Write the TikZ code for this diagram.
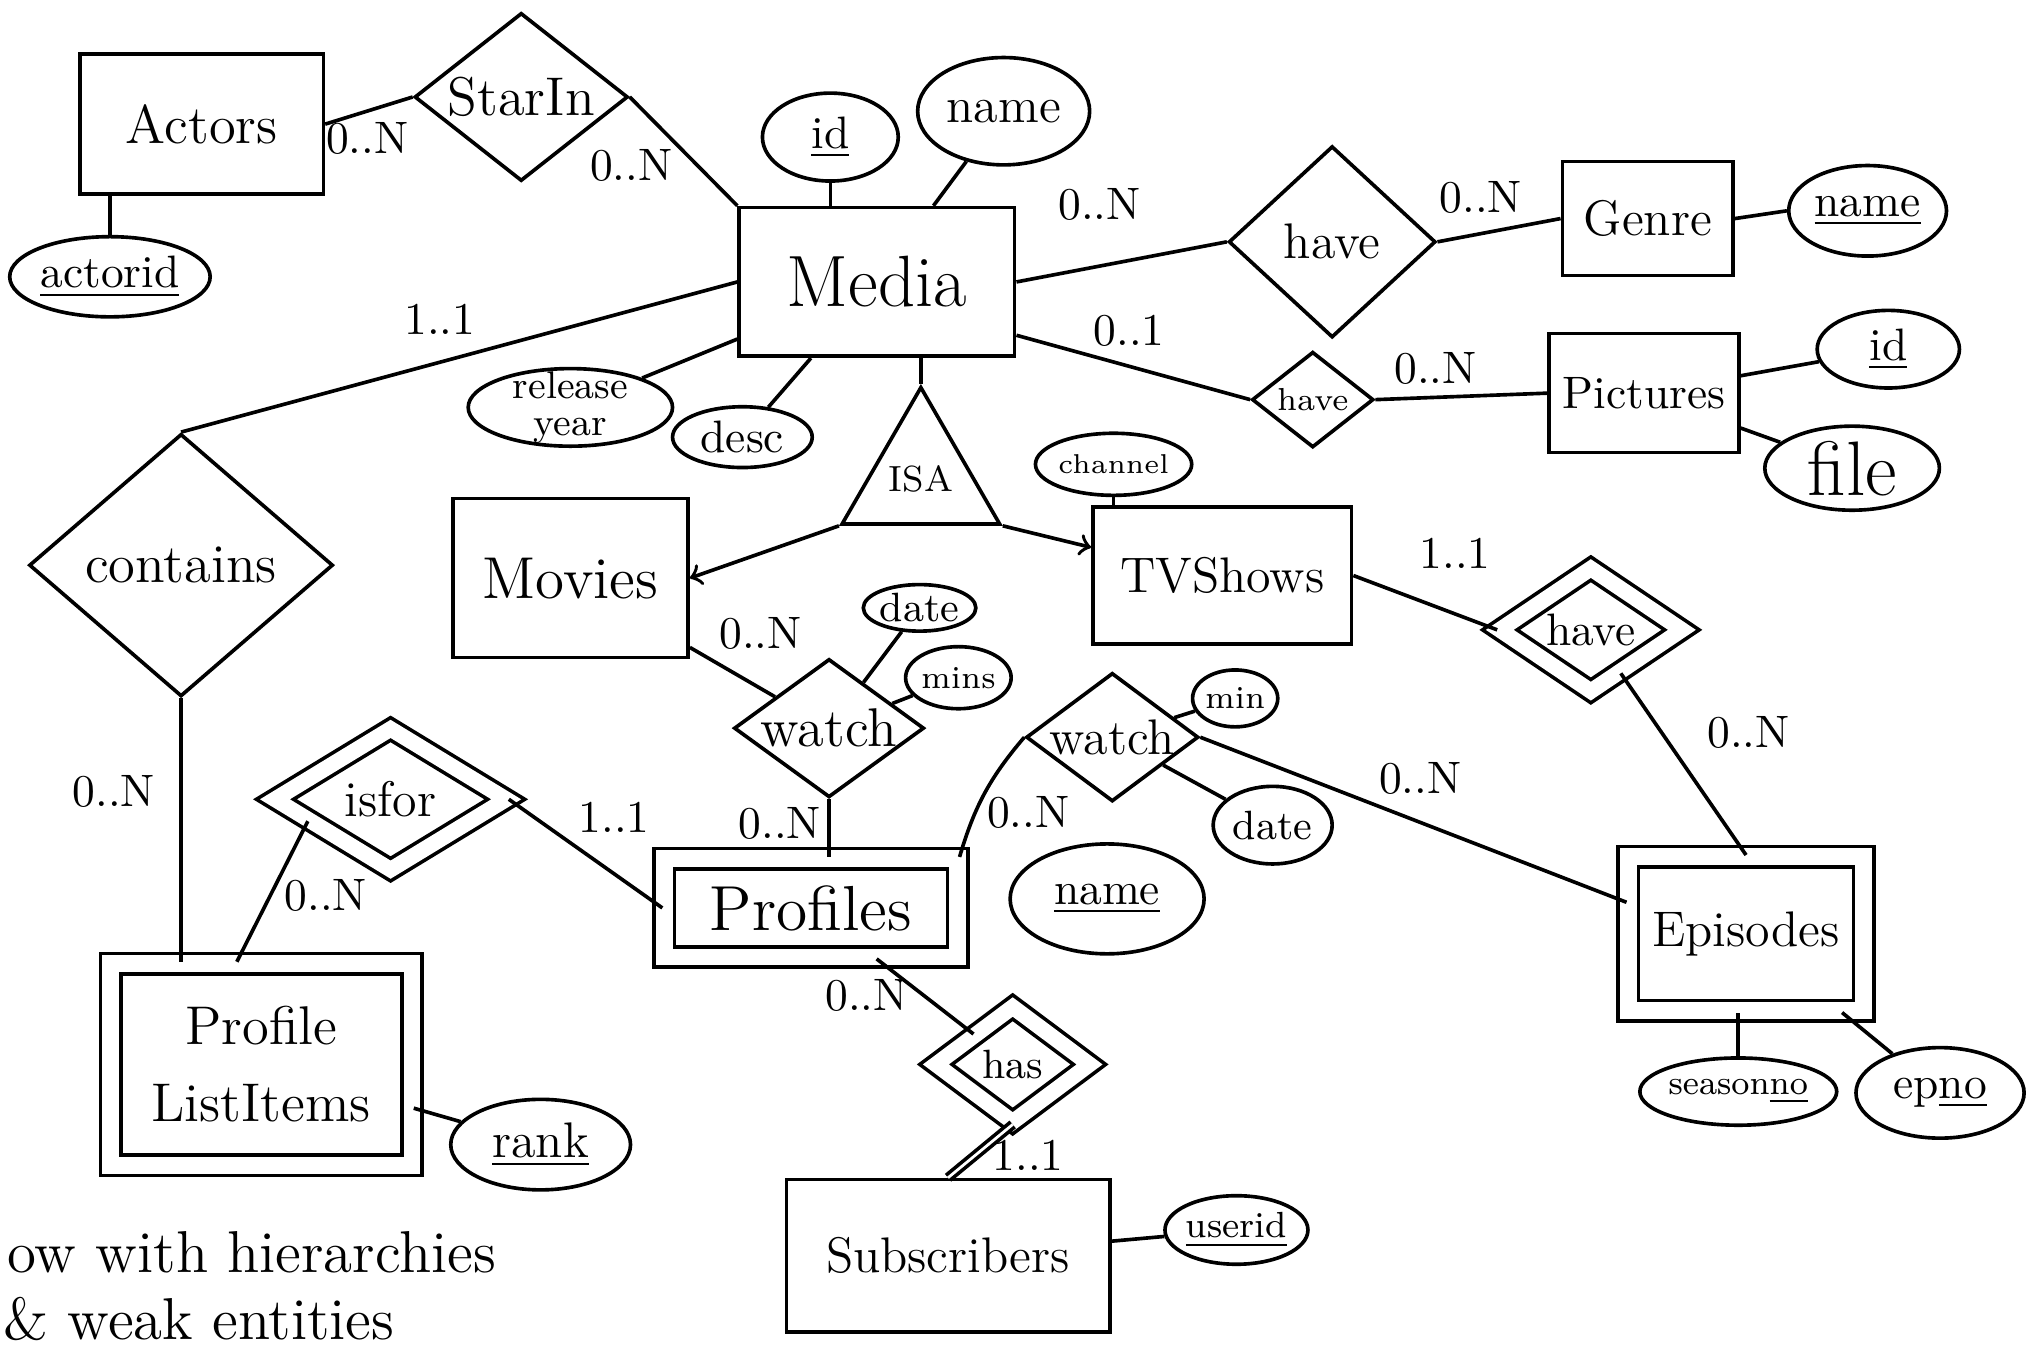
\documentclass[tikz,border=0pt]{standalone}
\usepackage{fontspec}
\usetikzlibrary{shapes.geometric}
\usetikzlibrary{calc}
\newcommand{\fs}[1]{\fontsize{#1}{#1}\selectfont}
\tikzset{
	entity/.style={draw, rectangle, thick, inner sep=2pt},
	weakentity/.style={entity, double, double distance=1.3mm},
	relation/.style={draw, diamond, thick, inner sep=0pt},
	weakrelation/.style={relation, double, double distance=1.2mm},
	attribute/.style={draw, ellipse, thick, inner sep=0pt},
	isa/.style={draw, regular polygon, regular polygon sides=3, thick, inner sep=0pt, minimum size=10.5mm},
	% cardinality labels
	card/.style={inner sep=1pt, font=\fs{10}},
	note/.style={anchor=west, inner sep=0pt, font=\fs{13}},
}

\begin{document}
\begin{tikzpicture}[x=0.1mm, y=-0.1mm]
			\useasboundingbox (0,0) rectangle (1568,1045);
			
			\node (actors) [entity, minimum width=18.8mm, minimum height=10.8mm, font=\fs{12}] at (156,96) {Actors};
			\node (media) [entity, minimum width=21.3mm, minimum height=11.5mm, font=\fs{16}] at (678,218) {Media};
			\node (genre) [entity, minimum width=13.2mm, minimum height=8.8mm, font=\fs{11}] at (1274,169) {Genre};
			\node (pictures) [entity, minimum width=14.7mm, minimum height=9.2mm, font=\fs{10}] at (1271,304) {Pictures};
			\node (movies) [entity, minimum width=18.2mm, minimum height=12.3mm, font=\fs{13}] at (441,447) {Movies};
			\node (tvshows) [entity, minimum width=20mm, minimum height=10.6mm, font=\fs{11}] at (945,445) {TVShows};
			\node (subscribers) [entity, minimum width=25mm, minimum height=11.8mm, font=\fs{11}] at (733,971) {Subscribers};
			
			\node (profiles) [weakentity, minimum width=22.7mm, minimum height=7.6mm, font=\fs{14}] at (627,702) {Profiles};
			\node (episodes) [weakentity, minimum width=18.2mm, minimum height=11.9mm, font=\fs{11}] at (1350,722) {Episodes};
			\node (pli) [weakentity, minimum width=23.3mm, minimum height=15.6mm, align=center, font=\fontsize{12}{17}\selectfont] at (202,823) {Profile\\ListItems};
			
			\node (starin) [relation, aspect=1.27, minimum width=16.5mm, minimum height=13mm, font=\fs{12}] at (403,75) {StarIn};
			\node (havegenre) [relation, aspect=1.08, minimum width=16mm, minimum height=14.8mm, font=\fs{11}] at (1030,187) {have};
			\node (havepic) [relation, aspect=1.27, minimum width=9.4mm, minimum height=7.4mm, font=\fs{7}] at (1015,309) {have};
			\node (contains) [relation, aspect=1.16, minimum width=23.5mm, minimum height=20.3mm, font=\fs{12}] at (140,437) {contains};
			\node (watchmov) [relation, aspect=1.37, minimum width=14.7mm, minimum height=10.7mm, font=\fs{12}] at (641,563) {watch};
			\node (watchep) [relation, aspect=1.34, minimum width=13mm, minimum height=9.7mm, font=\fs{11}] at (860,570) {watch};
			\node (isfor) [weakrelation, aspect=1.64, minimum width=18mm, minimum height=11mm, font=\fs{11}] at (302,618) {isfor};
			\node (haveep) [weakrelation, aspect=1.48, minimum width=14.2mm, minimum height=9.6mm, font=\fs{10}] at (1230,487) {have};
			\node (has) [weakrelation, aspect=1.33, minimum width=12mm, minimum height=9mm, font=\fs{9}] at (783,823) {has};
			
			\node (isa) [isa, font=\fs{8}] at (712,370) {ISA};
			
			\node (actorid) [attribute, minimum width=15.5mm, minimum height=6.2mm, font=\fs{10}] at (85,214) {\underline{actorid}};
			\node (mid) [attribute, minimum width=10.5mm, minimum height=6.8mm, font=\fs{10}] at (642,106) {\underline{id}};
			\node (mname) [attribute, minimum width=13.3mm, minimum height=8.3mm, font=\fs{11}] at (776,86) {name};
			\node (relyear) [attribute, inner ysep=-1mm, minimum width=15.8mm, minimum height=6mm, align=center, font=\fontsize{8.5}{8}\selectfont] at (441,315) {release\\year};
			\node (desc) [attribute, minimum width=10.8mm, minimum height=4.7mm, font=\fs{10}] at (574,338) {desc};
			\node (gname) [attribute, minimum width=12.2mm, minimum height=7mm, font=\fs{10}] at (1444,163) {\underline{name}};
			\node (pid) [attribute, minimum width=11mm, minimum height=6mm, font=\fs{10}] at (1460,270) {\underline{id}};
			\node (file) [attribute, minimum width=13.5mm, minimum height=6.5mm, font=\fs{17}] at (1432,362) {file};
			\node (channel) [attribute, minimum width=9.8mm, minimum height=4.8mm, font=\fs{6}] at (861,359) {channel};
			\node (datemov) [attribute, minimum width=8.7mm, minimum height=3.6mm, font=\fs{9}] at (711,470) {date};
			\node (mins) [attribute, minimum width=7.2mm, minimum height=4.8mm, font=\fs{7}] at (741,524) {mins};
			\node (min) [attribute, minimum width=6mm, minimum height=4.4mm, font=\fs{7}] at (955,540) {min};
			\node (dateep) [attribute, minimum width=9.2mm, minimum height=6mm, font=\fs{9}] at (984,638) {date};
			\node (pname) [attribute, minimum width=15mm, minimum height=8.5mm, font=\fs{10}] at (856,695) {\underline{name}};
			\node (rank) [attribute, minimum width=13.9mm, minimum height=7mm, font=\fs{11}] at (418,885) {\underline{rank}};
			\node (userid) [attribute, minimum width=10.3mm, minimum height=5.3mm, font=\fs{8}] at (956,951) {\underline{userid}};
			\node (seasonno) [attribute, minimum width=14.8mm, minimum height=5.2mm, font=\fs{7.5}] at (1344,844) {season\underline{no}};
			\node (epno) [attribute, minimum width=13mm, minimum height=7mm, font=\fs{10}] at (1500,845) {ep\underline{no}};
			
			\node (card1) [card] at (284,107) {0..N};
			\node (card2) [card] at (488,128) {0..N};
			\node (card3) [card] at (850,158) {0..N};
			\node (card4) [card] at (1145,153) {0..N};
			\node (card5) [card] at (340,247) {1..1};
			\node (card6) [card] at (873,256) {0..1};
			\node (card7) [card] at (1110,285) {0..N};
			\node (card8) [card] at (1125,428) {1..1};
			\node (card9) [card] at (588,490) {0..N};
			\node (card10) [card] at (1352,566) {0..N};
			\node (card11) [card] at (88,612) {0..N};
			\node (card12) [card] at (603,637) {0..N};
			\node (card13) [card] at (795,628) {0..N};
			\node (card14) [card] at (1098,602) {0..N};
			\node (card15) [card] at (475,632) {1..1};
			\node (card16) [card] at (252,692) {0..N};
			\node (card17) [card] at (670,770) {0..N};
			\node (card18) [card] at (795,893) {1..1};
			
			\node (note1) [note] at (5,968) {ow with hierarchies};
			\node (note2) [note] at (2,1020) {\& weak entities};
			
			\begin{scope}[thick, black, >=to]
				\draw (actors.east) -- (starin.west);
				\draw (starin.east) -- (media.north west);
				\draw (actorid) -- (actorid |- actors.south);
				
				\draw (mid.south) -- (mid.south |- media.north);
				\draw (media) -- (mname);
				\draw (media) -- (relyear);
				\draw (media) -- (desc);
				\draw (media.east) -- (havegenre.west);
				\draw (havegenre.east) -- (genre.west);
				\draw (genre.east) -- (gname.west);
				\draw ($(media.north east)!0.85!(media.south east)$) -- (havepic.west);
				\draw (havepic.east) -- (pictures.west);
				\draw (pictures) -- (pid);
				\draw (pictures) -- (file);
				\draw (media.west) -- (contains.north);
				\draw (contains.south) -- (contains.south |- pli.north);
				
				\draw (isa.corner 1) -- (isa.corner 1 |- media.south);
				\draw[->] (isa.corner 2) -- (movies.east);
				\draw[->] (isa.corner 3) -- ($(tvshows.north west)!0.3!(tvshows.south west)$);
				\draw (channel) -- (channel |- tvshows.north);
				
				\draw (movies) -- (watchmov);
				\draw (watchmov.south) -- (watchmov.south |- profiles.north);
				\draw (watchmov) -- (datemov);
				\draw (watchmov) -- (mins);
				
				\draw (watchep.west) to[bend right=12] (profiles.north east);
				\draw (watchep) -- (min);
				\draw (watchep) -- (dateep);
				\draw (watchep.east) -- ($(episodes.north west)!0.3!(episodes.south west)$);
				
				\draw (tvshows.east) -- (haveep.west);
				\draw (haveep) -- (episodes.north);
				\draw (seasonno.north) -- (seasonno.north |- episodes.south);
				\draw (episodes) -- (epno);
				
				\draw (isfor.east) -- (profiles.west);
				\draw ($(isfor.west)!0.3!(isfor.south)$) -- ($(pli.north west)!0.42!(pli.north east)$);
				\draw (pli) -- (rank);
				
				\draw (profiles) -- (has);
				\draw[double, double distance=0.6pt] (has.south) -- (subscribers.north);
				\draw (subscribers) -- (userid);
			\end{scope}
			
		\end{tikzpicture}
\end{document}
